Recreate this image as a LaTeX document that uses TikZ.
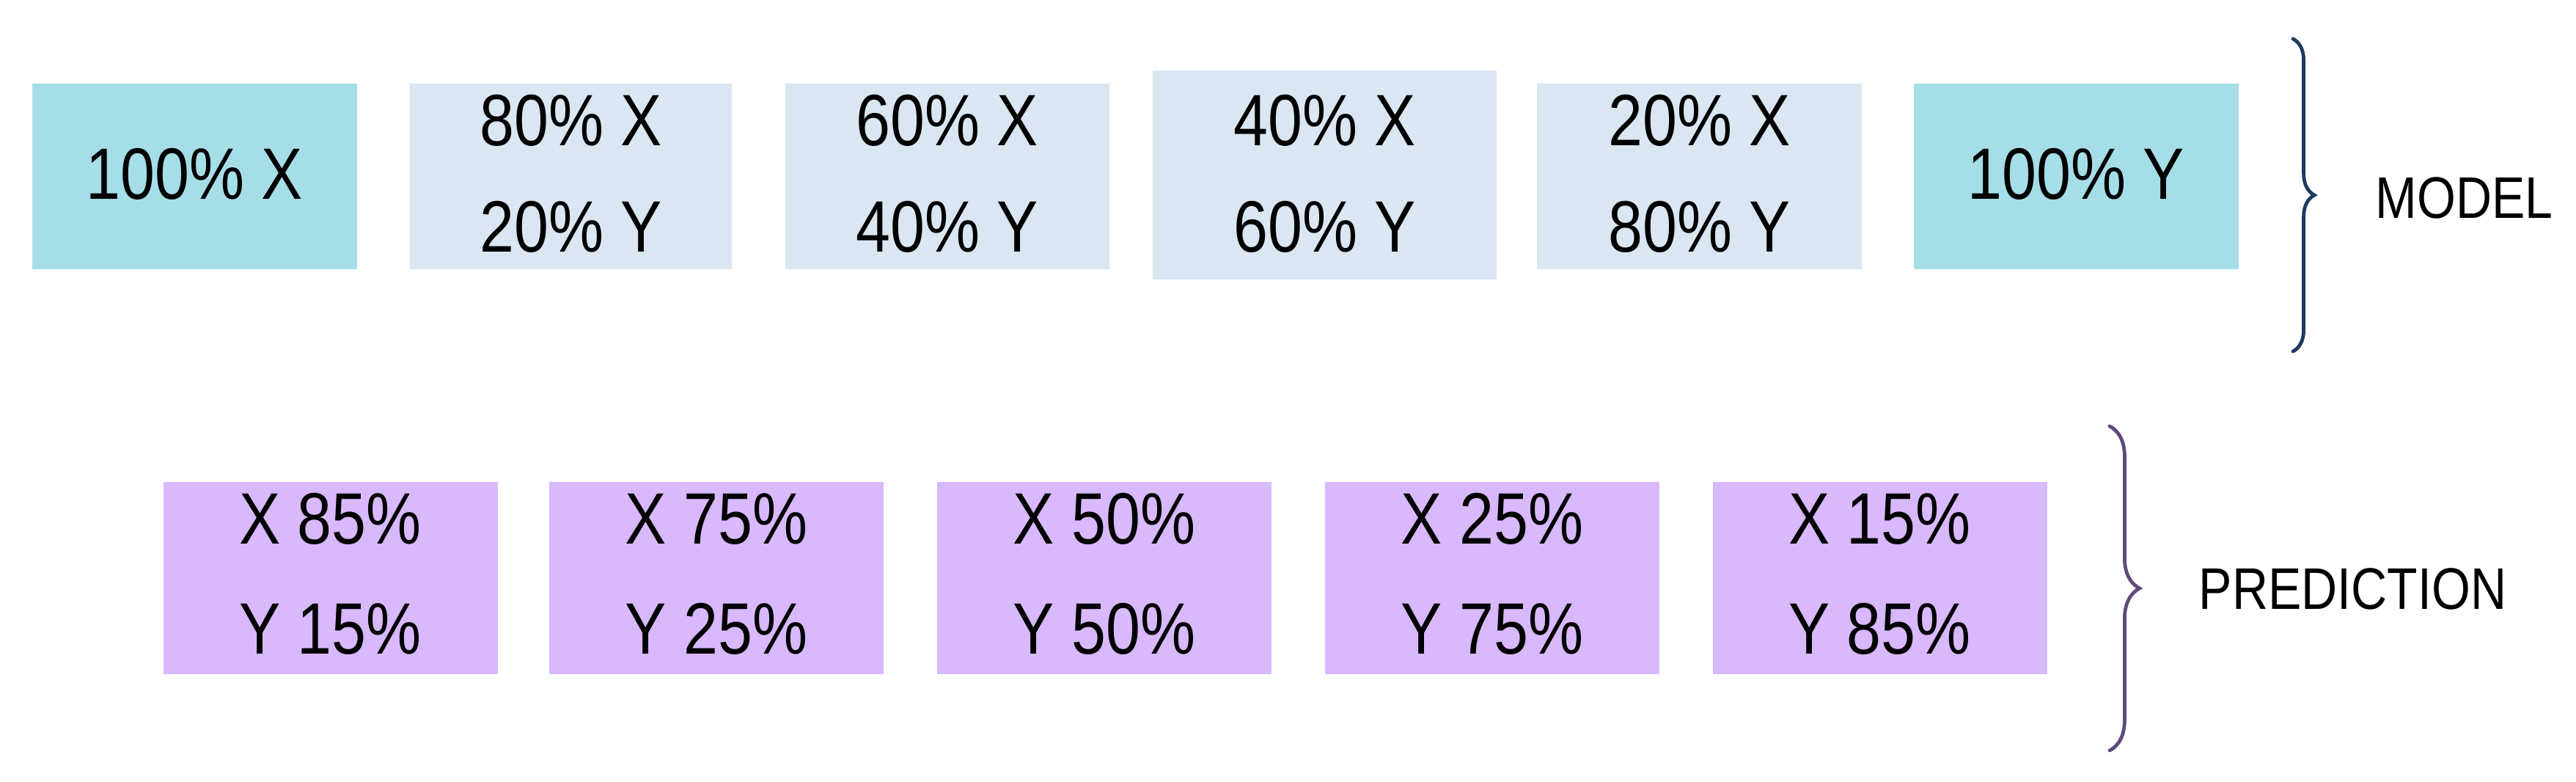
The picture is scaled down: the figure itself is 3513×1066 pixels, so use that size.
\documentclass[tikz,border=0pt]{standalone}
\usepackage{fontspec}
\setmainfont{Liberation Sans}[FakeStretch=0.85]
\usetikzlibrary{decorations.pathreplacing}
\definecolor{cyanbox}{HTML}{A6DEE8}
\definecolor{palebox}{HTML}{DAE6F1}
\definecolor{lilac}{HTML}{D8B9FC}
\definecolor{navy}{HTML}{1F3A60}
\definecolor{plum}{HTML}{5F4A7E}
\begin{document}
\begin{tikzpicture}[x=0.25pt,y=-0.25pt,
  box/.style={inner sep=0pt,outer sep=0pt,draw=none},
  topbox/.style={box,minimum height=63.25pt},
  botbox/.style={box,fill=lilac,minimum height=65.5pt,minimum width=114pt},
  lbl/.style={inner sep=0pt,anchor=base,font=\fontsize{24.8}{28}\selectfont},
  side/.style={inner sep=0pt,anchor=base west,font=\fontsize{20}{24}\selectfont},
  bracelines/.style={decorate,line width=1.2pt,line cap=round}]
\useasboundingbox (0,0) rectangle (3513,1066);
% top row
\node[topbox,fill=cyanbox,minimum width=110.75pt] (t1) at (265.5,240.5) {};
\node[topbox,fill=palebox,minimum width=109.75pt] (t2) at (778.5,240.5) {};
\node[topbox,fill=palebox,minimum width=110.5pt] (t3) at (1292,240.5) {};
\node[box,fill=palebox,minimum width=117.25pt,minimum height=71.25pt] (t4) at (1806.5,238.5) {};
\node[topbox,fill=palebox,minimum width=110.75pt] (t5) at (2317.5,240.5) {};
\node[topbox,fill=cyanbox,minimum width=110.75pt] (t6) at (2831.5,240.5) {};
\node[lbl] (t1a) at (265.5,272) {100\% X};
\node[lbl] (t2a) at (778.5,199) {80\% X};
\node[lbl] (t2b) at (778.5,344) {20\% Y};
\node[lbl] (t3a) at (1292,199) {60\% X};
\node[lbl] (t3b) at (1292,344) {40\% Y};
\node[lbl] (t4a) at (1806.5,199) {40\% X};
\node[lbl] (t4b) at (1806.5,344) {60\% Y};
\node[lbl] (t5a) at (2317.5,199) {20\% X};
\node[lbl] (t5b) at (2317.5,344) {80\% Y};
\node[lbl] (t6a) at (2831.5,272) {100\% Y};
% bottom row
\node[botbox] (b1) at (450.5,788) {};
\node[botbox] (b2) at (977,788) {};
\node[botbox] (b3) at (1506,788) {};
\node[botbox] (b4) at (2035,788) {};
\node[botbox] (b5) at (2563.5,788) {};
\node[lbl] (b1a) at (450.5,742) {X 85\%};
\node[lbl] (b1b) at (450.5,892) {Y 15\%};
\node[lbl] (b2a) at (977,742) {X 75\%};
\node[lbl] (b2b) at (977,892) {Y 25\%};
\node[lbl] (b3a) at (1506,742) {X 50\%};
\node[lbl] (b3b) at (1506,892) {Y 50\%};
\node[lbl] (b4a) at (2035,742) {X 25\%};
\node[lbl] (b4b) at (2035,892) {Y 75\%};
\node[lbl] (b5a) at (2563.5,742) {X 15\%};
\node[lbl] (b5b) at (2563.5,892) {Y 85\%};
% braces
\coordinate (mtop) at (3127,53);
\coordinate (mbot) at (3127,479);
\draw[bracelines,navy,decoration={brace,amplitude=7.3pt}] (mtop) -- (mbot);
\coordinate (ptop) at (2877,581);
\coordinate (pbot) at (2877,1023);
\draw[bracelines,plum,decoration={brace,amplitude=10.2pt}] (ptop) -- (pbot);
\node[side] (model) at (3239,298) {MODEL};
\node[side] (pred) at (2998,831) {PREDICTION};
\end{tikzpicture}
\end{document}
